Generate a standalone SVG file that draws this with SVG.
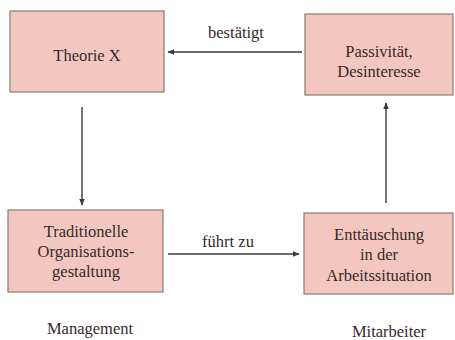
<svg xmlns="http://www.w3.org/2000/svg" width="455" height="340" viewBox="0 0 455 340">
<style>
.box{fill:#f3c7bf;stroke:#8a7a76;stroke-width:1.2}
text{font-family:"Liberation Serif","Times New Roman",serif;font-size:16.5px;fill:#36292a;text-anchor:middle}
.line{stroke:#3a3a3a;stroke-width:1.4;fill:none}
</style>
<defs>
<marker id="ah" viewBox="0 0 10 10" refX="9" refY="5" markerWidth="5" markerHeight="5" orient="auto-start-reverse">
<path d="M0,1 L10,5 L0,9 z" fill="#3a3a3a"/>
</marker>
</defs>
<rect width="455" height="340" fill="#ffffff"/>
<g id="theorie">
<rect class="box" x="10" y="11" width="154" height="81"/>
<text x="87" y="61">Theorie X</text>
</g>
<g id="passivitaet">
<rect class="box" x="305" y="14" width="148" height="81"/>
<text x="379" y="57">Passivität,</text>
<text x="379" y="77">Desinteresse</text>
</g>
<g id="traditionelle">
<rect class="box" x="8" y="210" width="155" height="82"/>
<text x="86" y="237">Traditionelle</text>
<text x="86" y="257">Organisations-</text>
<text x="86" y="277">gestaltung</text>
</g>
<g id="enttaeuschung">
<rect class="box" x="304" y="213" width="149" height="81"/>
<text x="379" y="240">Enttäuschung</text>
<text x="379" y="260">in der</text>
<text x="379" y="281">Arbeitssituation</text>
</g>
<g id="connectors">
<line class="line" x1="302" y1="52" x2="168" y2="52" marker-end="url(#ah)"/>
<line class="line" x1="82" y1="107" x2="82" y2="205" marker-end="url(#ah)"/>
<line class="line" x1="168" y1="254" x2="299" y2="254" marker-end="url(#ah)"/>
<line class="line" x1="386" y1="203" x2="386" y2="103" marker-end="url(#ah)"/>
<text x="236" y="38">bestätigt</text>
<text x="228" y="247">führt zu</text>
</g>
<g id="labels">
<text x="90" y="334">Management</text>
<text x="389" y="337">Mitarbeiter</text>
</g>
</svg>
